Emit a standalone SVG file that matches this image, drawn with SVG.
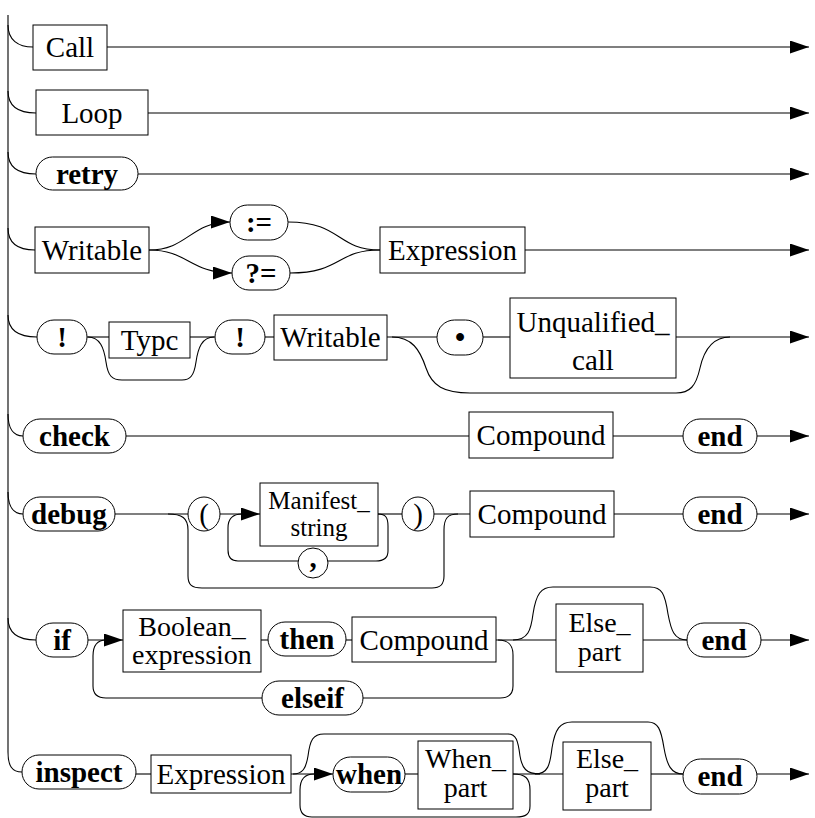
<svg xmlns="http://www.w3.org/2000/svg" width="815" height="818" viewBox="0 0 815 818">
<style>
.b{fill:#fff;stroke:#000;stroke-width:1}
.c path{fill:none;stroke:#000;stroke-width:1.1}
text{font-family:"Liberation Serif","Times New Roman",serif;font-size:29px;text-anchor:middle;fill:#000}
.k{font-weight:bold}
.s{font-size:25px}
.t{font-size:28px}
</style>
<defs>
<marker id="a" markerUnits="userSpaceOnUse" markerWidth="20" markerHeight="14" refX="19" refY="6.5" orient="auto">
<path d="M0,0 L19,6.5 L0,13 z" fill="#000"/>
</marker>
</defs>
<rect width="815" height="818" fill="#fff"/>
<g class="c" id="connectors">
<path d="M8,15 V752 C8,766 12,772 22,772"/>
<path d="M8,25 C8,40 18,47 33,47"/>
<path d="M8,91 C8,106 18,113 36,113"/>
<path d="M8,152 C8,167 18,174 36,174"/>
<path d="M8,228 C8,243 18,250 35,250"/>
<path d="M8,315 C8,330 18,337 37,337"/>
<path d="M8,414 C8,429 14,436 23,436"/>
<path d="M8,492 C8,507 14,514 23,514"/>
<path d="M8,618 C8,633 18,640 36,640"/>
<path d="M107,47 H809" marker-end="url(#a)"/>
<path d="M148,113 H809" marker-end="url(#a)"/>
<path d="M138,174 H809" marker-end="url(#a)"/>
<path d="M149,250 C188,250 190,222 230,222" marker-end="url(#a)"/>
<path d="M149,250 C188,250 190,273 232,273" marker-end="url(#a)"/>
<path d="M288,222 C342,222 336,250 380,250"/>
<path d="M290,273 C342,273 336,250 380,250"/>
<path d="M525,250 H809" marker-end="url(#a)"/>
<path d="M87,337 H109"/>
<path d="M190,337 H215"/>
<path d="M265,337 H274"/>
<path d="M387,337 H437"/>
<path d="M483,337 H510"/>
<path d="M676,337 H809" marker-end="url(#a)"/>
<path d="M88,337 C100,337 104,348 106,362 C108,376 112,380 122,380 H182 C190,380 194,376 196,362 C198,348 202,337 214,337"/>
<path d="M392,337 C412,337 420,350 426,368 C432,386 444,393 470,393 H676 C690,393 696,386 700,368 C704,350 712,337 730,337"/>
<path d="M126,436 H469"/>
<path d="M613,436 H683"/>
<path d="M757,436 H809" marker-end="url(#a)"/>
<path d="M115,514 H188"/>
<path d="M220,514 H260" marker-end="url(#a)"/>
<path d="M378,514 H402"/>
<path d="M434,514 H470"/>
<path d="M614,514 H683"/>
<path d="M757,514 H809" marker-end="url(#a)"/>
<path d="M378,514 C386,514 388,518 388,526 V551 C388,558 384,561 376,561 H328"/>
<path d="M298,561 H238 C231,561 228,557 228,550 V528 C228,518 233,514 242,514"/>
<path d="M168,514 C182,514 188,518 188,530 V576 C188,585 192,588 202,588 H432 C440,588 444,585 444,576 V530 C444,518 448,514 458,514"/>
<path d="M88,640 H123" marker-end="url(#a)"/>
<path d="M261,640 H268"/>
<path d="M346,640 H352"/>
<path d="M496,640 H556"/>
<path d="M643,640 H687"/>
<path d="M761,640 H809" marker-end="url(#a)"/>
<path d="M498,640 C509,640 513,645 513,655 V686 C513,694 508,698 500,698 H363"/>
<path d="M262,698 H106 C97,698 93,694 93,686 V656 C93,645 98,640 106,640"/>
<path d="M513,640 C528,640 531,630 533,614 C536,594 541,587 553,587 H650 C662,587 665,594 668,614 C671,630 674,640 687,640"/>
<path d="M136,774 H151"/>
<path d="M291,774 H333" marker-end="url(#a)"/>
<path d="M405,774 H418"/>
<path d="M513,774 H563"/>
<path d="M651,774 H683"/>
<path d="M757,774 H809" marker-end="url(#a)"/>
<path d="M293,774 C303,774 306,768 308,756 C310,740 313,734 324,734 H508 C516,734 518,740 520,756 C522,768 526,774 540,774"/>
<path d="M513,774 C525,774 530,778 530,790 V806 C530,814 526,817 516,817 H312 C304,817 300,813 300,805 V790 C300,779 305,774 314,774"/>
<path d="M535,774 C548,774 550,765 552,748 C555,729 560,722 572,722 H648 C658,722 661,729 664,748 C667,765 671,774 683,774"/>
</g>
<g id="call"><rect class="b" x="33" y="25" width="74" height="45"/><text x="70" y="57">Call</text></g>
<g id="loop"><rect class="b" x="36" y="90" width="112" height="45"/><text x="92" y="123">Loop</text></g>
<g id="retry"><rect class="b" x="36" y="157" width="102" height="33" rx="16.5"/><text class="k" x="87" y="184">retry</text></g>
<g id="writable1"><rect class="b" x="35" y="227" width="114" height="46"/><text x="92" y="260">Writable</text></g>
<g id="assign"><rect class="b" x="230" y="205" width="58" height="35" rx="17.5"/><text class="k" x="259" y="232">:=</text></g>
<g id="qassign"><rect class="b" x="232" y="256" width="58" height="34" rx="17"/><text class="k" x="261" y="283">?=</text></g>
<g id="expression1"><rect class="b" x="380" y="227" width="145" height="46"/><text x="452.5" y="260">Expression</text></g>
<g id="bang1"><rect class="b" x="37" y="320" width="50" height="34" rx="17"/><text class="k" x="62" y="347">!</text></g>
<g id="typc"><rect class="b" x="109" y="322" width="81" height="36"/><text x="149.5" y="350">Typc</text></g>
<g id="bang2"><rect class="b" x="215" y="320" width="50" height="34" rx="17"/><text class="k" x="240" y="347">!</text></g>
<g id="writable2"><rect class="b" x="274" y="315" width="113" height="45"/><text x="330.5" y="347">Writable</text></g>
<g id="dot"><rect class="b" x="437" y="320" width="46" height="35" rx="17.5"/><text class="k" x="460" y="347">•</text></g>
<g id="unqualified"><rect class="b" x="510" y="298" width="166" height="80"/><text x="593" y="332">Unqualified_</text><text x="593" y="370">call</text></g>
<g id="check"><rect class="b" x="23" y="419" width="103" height="34" rx="17"/><text class="k" x="74.5" y="446">check</text></g>
<g id="compound1"><rect class="b" x="469" y="412" width="144" height="46"/><text x="541" y="445">Compound</text></g>
<g id="end1"><rect class="b" x="683" y="419" width="74" height="34" rx="17"/><text class="k" x="720" y="446">end</text></g>
<g id="debug"><rect class="b" x="23" y="497" width="92" height="34" rx="17"/><text class="k" x="69" y="524">debug</text></g>
<g id="lparen"><ellipse class="b" cx="204" cy="514" rx="16" ry="17"/><text x="204" y="524">(</text></g>
<g id="manifest"><rect class="b" x="260" y="483" width="118" height="63"/><text class="s" x="319" y="509">Manifest_</text><text class="s" x="319" y="536">string</text></g>
<g id="rparen"><ellipse class="b" cx="418" cy="514" rx="16" ry="17"/><text x="418" y="524">)</text></g>
<g id="comma"><ellipse class="b" cx="313" cy="563" rx="15" ry="15"/><text class="k" x="313" y="567">,</text></g>
<g id="compound2"><rect class="b" x="470" y="491" width="144" height="46"/><text x="542" y="524">Compound</text></g>
<g id="end2"><rect class="b" x="683" y="497" width="74" height="34" rx="17"/><text class="k" x="720" y="524">end</text></g>
<g id="if"><rect class="b" x="36" y="623" width="52" height="34" rx="17"/><text class="k" x="62" y="650">if</text></g>
<g id="boolean"><rect class="b" x="123" y="610" width="138" height="62"/><text class="t" x="192" y="636">Boolean_</text><text class="t" x="192" y="664">expression</text></g>
<g id="then"><rect class="b" x="268" y="622" width="78" height="34" rx="17"/><text class="k" x="307" y="649">then</text></g>
<g id="compound3"><rect class="b" x="352" y="617" width="144" height="45"/><text x="424" y="650">Compound</text></g>
<g id="elseif"><rect class="b" x="262" y="681" width="101" height="34" rx="17"/><text class="k" x="312.5" y="708">elseif</text></g>
<g id="elsepart1"><rect class="b" x="556" y="604" width="87" height="68"/><text class="t" x="599.5" y="632">Else_</text><text class="t" x="599.5" y="661">part</text></g>
<g id="end3"><rect class="b" x="687" y="623" width="74" height="34" rx="17"/><text class="k" x="724" y="650">end</text></g>
<g id="inspect"><rect class="b" x="22" y="755" width="114" height="34" rx="17"/><text class="k" x="79" y="782">inspect</text></g>
<g id="expression2"><rect class="b" x="151" y="755" width="140" height="38"/><text x="221" y="784">Expression</text></g>
<g id="when"><rect class="b" x="333" y="757" width="72" height="35" rx="17.5"/><text class="k" x="369" y="784">when</text></g>
<g id="whenpart"><rect class="b" x="418" y="741" width="95" height="68"/><text class="t" x="465.5" y="768">When_</text><text class="t" x="465.5" y="797">part</text></g>
<g id="elsepart2"><rect class="b" x="563" y="742" width="88" height="68"/><text class="t" x="607" y="768">Else_</text><text class="t" x="607" y="797">part</text></g>
<g id="end4"><rect class="b" x="683" y="759" width="74" height="35" rx="17.5"/><text class="k" x="720" y="786">end</text></g>
</svg>
